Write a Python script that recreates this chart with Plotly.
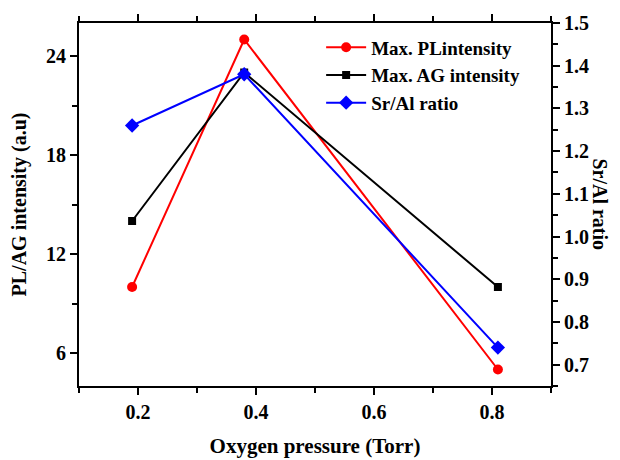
import plotly.graph_objects as go

pressure = [0.19, 0.38, 0.81]
pl_intensity = [10.0, 25.0, 5.0]
ag_intensity = [14.0, 23.0, 10.0]
sr_al_ratio = [1.26, 1.38, 0.74]

FONT = "Liberation Serif"
TICKF = dict(family=FONT, size=20, color="black", weight="bold")
TITLEF = dict(family=FONT, size=20, color="black", weight="bold")
XTITLEF = dict(family=FONT, size=21, color="black", weight="bold")

fig = go.Figure()
fig.add_trace(go.Scatter(x=pressure, y=pl_intensity, mode="lines+markers",
                         name="Max. PLintensity",
                         line=dict(color="#ff0000", width=2),
                         marker=dict(symbol="circle", size=10, color="#ff0000")))
fig.add_trace(go.Scatter(x=pressure, y=ag_intensity, mode="lines+markers",
                         name="Max. AG intensity",
                         line=dict(color="#000000", width=2),
                         marker=dict(symbol="square", size=8, color="#000000")))
fig.add_trace(go.Scatter(x=pressure, y=sr_al_ratio, mode="lines+markers",
                         name="Sr/Al ratio", yaxis="y2",
                         line=dict(color="#0000ff", width=2),
                         marker=dict(symbol="diamond", size=11, color="#0000ff")))

# page body has an 8px margin, so the figure is 612x452 placed at (8, 8)
fig.update_layout(
    width=612, height=452,
    margin=dict(l=71, r=69, t=15, b=74, autoexpand=False),
    paper_bgcolor="white", plot_bgcolor="white",
    font=dict(family=FONT, size=18, color="black"),
    showlegend=True,
    legend=dict(x=0.513, y=0.985, xanchor="left", yanchor="top",
                bgcolor="rgba(0,0,0,0)",
                font=dict(family=FONT, size=19, color="black", weight="bold"),
                tracegroupgap=0, itemwidth=40),
    xaxis=dict(range=[0.1, 0.9], tick0=0.2, dtick=0.2, tickformat=".1f",
               automargin=False,
               showgrid=False, zeroline=False, showline=True, linecolor="black",
               linewidth=2, mirror="ticks", ticks="outside", ticklen=7, tickwidth=2,
               tickcolor="black",
               minor=dict(dtick=0.1, tick0=0.1, ticks="outside", ticklen=5,
                          tickwidth=2, tickcolor="black", showgrid=False),
               tickfont=TICKF,
               title=dict(text="Oxygen pressure (Torr)", standoff=16, font=XTITLEF)),
    yaxis=dict(range=[4, 26], tick0=0, dtick=6, automargin=False,
               showgrid=False, zeroline=False, showline=True, linecolor="black",
               linewidth=2, ticks="outside", ticklen=7, tickwidth=2, tickcolor="black",
               minor=dict(dtick=3, tick0=0, ticks="outside", ticklen=5,
                          tickwidth=2, tickcolor="black", showgrid=False),
               tickfont=TICKF,
               title=dict(text="PL/AG intensity (a.u)", standoff=14, font=TITLEF)),
    yaxis2=dict(range=[0.65, 1.5], tick0=0.7, dtick=0.1, tickformat=".1f",
                overlaying="y", side="right", automargin=False,
                showgrid=False, zeroline=False, showline=True, linecolor="black",
                linewidth=2, ticks="outside", ticklen=7, tickwidth=2, tickcolor="black",
                minor=dict(dtick=0.05, tick0=0.65, ticks="outside", ticklen=5,
                           tickwidth=2, tickcolor="black", showgrid=False),
                tickfont=TICKF),
)

fig.add_annotation(text="Sr/Al ratio", textangle=90,
                   xref="paper", yref="paper", x=1.104, y=0.5,
                   xanchor="center", yanchor="middle", showarrow=False,
                   font=TITLEF)

fig.write_html("out.html")
